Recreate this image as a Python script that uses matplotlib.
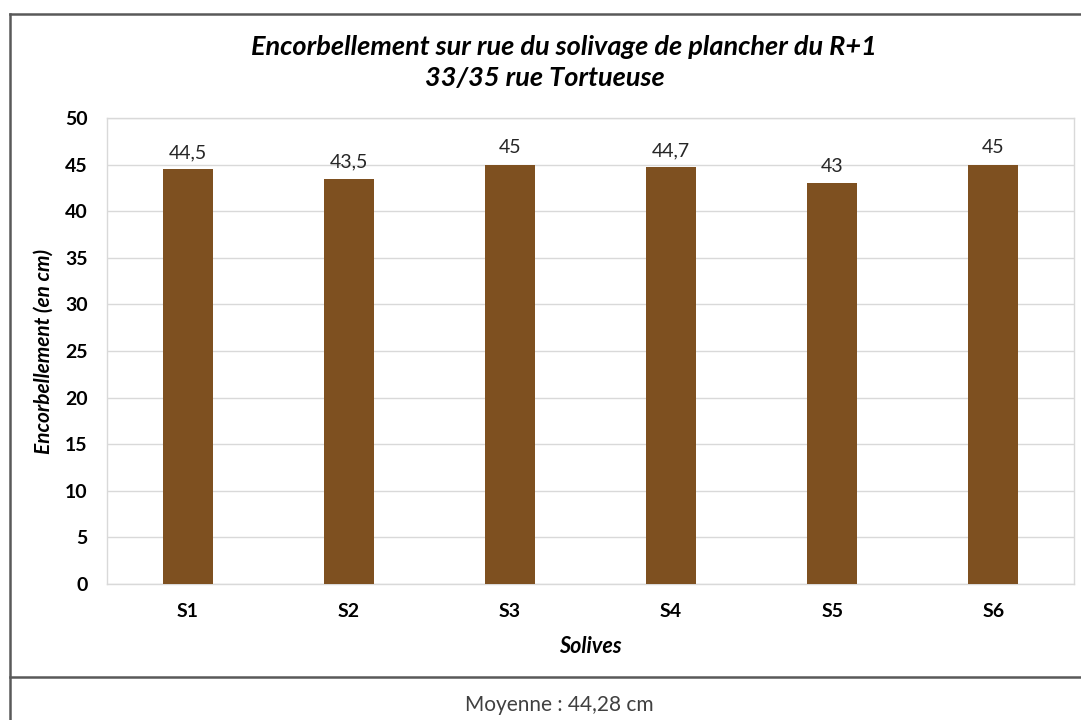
import matplotlib.pyplot as plt
from matplotlib.lines import Line2D

solives = ['S1', 'S2', 'S3', 'S4', 'S5', 'S6']
encorbellement = [44.5, 43.5, 45, 44.7, 43, 45]
etiquettes = ['44,5', '43,5', '45', '44,7', '43', '45']
yticks = [0, 5, 10, 15, 20, 25, 30, 35, 40, 45, 50]

plt.rcParams['font.family'] = ['Lato', 'DejaVu Sans']

fig = plt.figure(figsize=(10.81, 7.2), dpi=100)
ax = fig.add_axes([0.099, 0.189, 0.8945, 0.647])

x = range(len(solives))
ax.bar(x, encorbellement, width=0.31, color='#7E5020', zorder=3)
for i, (v, lab) in enumerate(zip(encorbellement, etiquettes)):
    ax.text(i, v + 0.9, lab, ha='center', va='bottom', fontsize=14, color='#262626')

ax.set_xlim(-0.5, len(solives) - 0.5)
ax.set_ylim(0, 50)
ax.set_yticks(yticks)
ax.set_xticks(list(x))
ax.set_xticklabels(solives, fontweight='bold', fontsize=14)
ax.tick_params(axis='y', length=0, pad=14, labelsize=14)
ax.tick_params(axis='x', length=0, pad=14)
for lab in ax.get_yticklabels():
    lab.set_fontweight('bold')
ax.grid(axis='y', color='#d9d9d9', linewidth=1, zorder=0)
for s in ax.spines.values():
    s.set_color('#d9d9d9')
    s.set_linewidth(1)

ax.set_xlabel('Solives', fontsize=15.5, fontweight='bold', style='italic', labelpad=11)
ax.set_ylabel('Encorbellement (en cm)', fontsize=15, fontweight='bold', style='italic', labelpad=8)

titre = ['Encorbellement sur rue du solivage de plancher du R+1', '33/35 rue Tortueuse']
fig.text(0.522, 0.935, titre[0], ha='center', va='center', fontsize=19.5,
         fontweight='bold', style='italic')
fig.text(0.504, 0.892, titre[1], ha='center', va='center', fontsize=19.5,
         fontweight='bold', style='italic')

fig.text(0.517, 0.021, 'Moyenne : 44,28 cm', ha='center', va='center', fontsize=15, color='#404040')

# cadre autour du graphique
frame = '#595959'
fig.add_artist(Line2D([0.0088, 1.0], [0.981, 0.981], color=frame, lw=1.8))
fig.add_artist(Line2D([0.0088, 0.0088], [0.0, 0.981], color=frame, lw=1.8))
fig.add_artist(Line2D([0.0088, 1.0], [0.0597, 0.0597], color=frame, lw=1.8))

fig.savefig('out.png', dpi=100)
